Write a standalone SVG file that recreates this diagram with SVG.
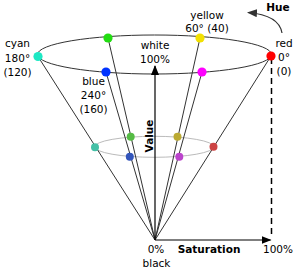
<svg xmlns="http://www.w3.org/2000/svg" width="296" height="272" viewBox="0 0 296 272">
<defs>
<style>
text{font-family:"DejaVu Sans","Liberation Sans",sans-serif;font-size:10.5px;fill:#000;text-anchor:middle}
.b{font-weight:bold}
.ln{stroke:#333;stroke-width:1;fill:none}
.ax{stroke:#000;stroke-width:1.2;fill:none}
</style>
<marker id="ah" markerWidth="10" markerHeight="8" refX="9" refY="4" orient="auto" markerUnits="userSpaceOnUse">
<path d="M0,0 L10,4 L0,8 Z" fill="#000"/>
</marker>
<marker id="ah2" markerWidth="10" markerHeight="8" refX="9" refY="4" orient="auto" markerUnits="userSpaceOnUse">
<path d="M0,0 L10,4 L0,8 Z" fill="#333"/>
</marker>
</defs>
<rect width="296" height="272" fill="#fff"/>
<g id="cone">
<ellipse cx="154.5" cy="54.5" rx="117" ry="19.5" fill="none" stroke="#333" stroke-width="1"/>
<ellipse cx="154.2" cy="146.8" rx="59.5" ry="10.5" fill="none" stroke="#bbb" stroke-width="1"/>
</g>
<g id="connectors">
<line class="ln" x1="155" y1="240" x2="38" y2="56.5"/>
<line class="ln" x1="155" y1="240" x2="108" y2="38"/>
<line class="ln" x1="155" y1="240" x2="106" y2="72"/>
<line class="ln" x1="155" y1="240" x2="200" y2="38"/>
<line class="ln" x1="155" y1="240" x2="202" y2="72"/>
<line class="ln" x1="155" y1="240" x2="271" y2="56"/>
<line class="ax" x1="155" y1="240" x2="155" y2="66" marker-end="url(#ah)"/>
<line class="ax" x1="155" y1="240" x2="270.5" y2="240" marker-end="url(#ah)"/>
<line x1="271.5" y1="58" x2="271.5" y2="234" stroke="#000" stroke-width="1.5" stroke-dasharray="6,4"/>
<path d="M282,33 Q279,15 248,12.5" stroke="#333" stroke-width="1.2" fill="none" marker-end="url(#ah2)"/>
</g>
<g id="top-dots">
<circle cx="38" cy="56.5" r="4.6" fill="#1ee8c4"/>
<circle cx="108" cy="38" r="4.6" fill="#22dd11"/>
<circle cx="200" cy="38" r="4.6" fill="#f2e000"/>
<circle cx="271" cy="56" r="4.6" fill="#ff0000"/>
<circle cx="106" cy="72" r="4.6" fill="#0033ff"/>
<circle cx="202" cy="72" r="4.6" fill="#ff00ff"/>
</g>
<g id="mid-dots">
<circle cx="95" cy="147.3" r="4" fill="#44c0a6"/>
<circle cx="130.7" cy="136.7" r="4" fill="#55bb44"/>
<circle cx="177.5" cy="136.7" r="4" fill="#bbaa33"/>
<circle cx="213.5" cy="146.7" r="4" fill="#cc4444"/>
<circle cx="129.8" cy="156.7" r="4" fill="#3355bb"/>
<circle cx="179.3" cy="156.7" r="4" fill="#bb44cc"/>
</g>
<g id="labels">
<text x="17.5" y="47">cyan</text>
<text x="17.5" y="61.5">180°</text>
<text x="17.5" y="76">(120)</text>
<text x="93.5" y="85">blue</text>
<text x="93.5" y="99">240°</text>
<text x="93.5" y="113">(160)</text>
<text x="155" y="49">white</text>
<text x="155" y="62.5">100%</text>
<text x="207" y="19">yellow</text>
<text x="207" y="31.5">60° (40)</text>
<text x="284" y="46.5">red</text>
<text x="284" y="61">0°</text>
<text x="284" y="75">(0)</text>
<text class="b" x="278" y="11">Hue</text>
<text class="b" transform="translate(152.5,136) rotate(-90)">Value</text>
<text class="b" x="209" y="252.7">Saturation</text>
<text x="156" y="253">0%</text>
<text x="156.5" y="266.7">black</text>
<text x="278" y="252.7">100%</text>
</g>
</svg>
